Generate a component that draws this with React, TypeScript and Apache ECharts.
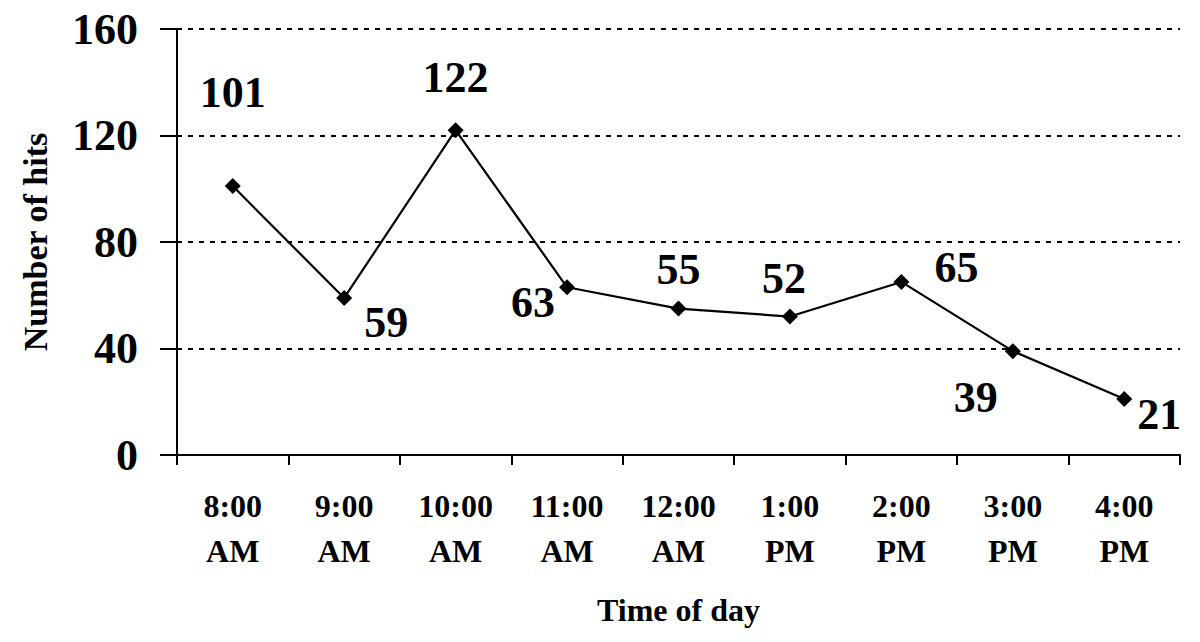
import React, { useEffect, useRef } from "react";
import * as echarts from "echarts";

const categories = ["8:00 AM", "9:00 AM", "10:00 AM", "11:00 AM", "12:00 AM", "1:00 PM", "2:00 PM", "3:00 PM", "4:00 PM"];
const hits = [101, 59, 122, 63, 55, 52, 65, 39, 21];
const yTicks = [0, 40, 80, 120, 160];

// label offsets relative to each marker (style only)
const labelOffsets: [number, number][] = [
  [0, -94],
  [42, 25],
  [0, -53],
  [-34, 15],
  [0, -39],
  [-6, -38],
  [55, -14],
  [-37, 46],
  [35, 15],
];

const FONT = '"Liberation Serif", "Times New Roman", serif';

export default function App() {
  const ref = useRef<HTMLDivElement>(null);
  useEffect(() => {
    if (!ref.current) return;
    const chart = echarts.init(ref.current, null, { renderer: "svg" });
    chart.setOption({
      animation: false,
      backgroundColor: "#ffffff",
      grid: { left: 177, right: 20, top: 29, bottom: 187, containLabel: false },
      xAxis: {
        type: "category",
        data: categories,
        boundaryGap: true,
        name: "Time of day",
        nameLocation: "middle",
        nameGap: 139,
        nameTextStyle: { fontFamily: FONT, fontWeight: "bold", fontSize: 32, color: "#000", verticalAlign: "top" },
        axisLine: { show: true, lineStyle: { color: "#000", width: 2 } },
        axisTick: { show: true, length: 10, alignWithLabel: false, lineStyle: { color: "#000", width: 2 } },
        axisLabel: {
          show: true,
          margin: 28,
          interval: 0,
          fontFamily: FONT,
          fontWeight: "bold",
          fontSize: 32,
          lineHeight: 45,
          color: "#000",
          formatter: (v: string) => v.replace(" ", "\n"),
        },
        splitLine: { show: false },
      },
      yAxis: {
        type: "value",
        min: yTicks[0],
        max: yTicks[yTicks.length - 1],
        interval: yTicks[1] - yTicks[0],
        name: "Number of hits",
        nameLocation: "middle",
        nameGap: 125,
        nameRotate: 90,
        nameTextStyle: { fontFamily: FONT, fontWeight: "bold", fontSize: 34, color: "#000" },
        axisLine: { show: true, lineStyle: { color: "#000", width: 2 } },
        axisTick: { show: true, inside: false, length: 17, lineStyle: { color: "#000", width: 2 } },
        axisLabel: { margin: 39, fontFamily: FONT, fontWeight: "bold", fontSize: 44, color: "#000" },
        splitLine: { show: true, lineStyle: { color: "#000", width: 2, type: [5, 6] } },
      },
      series: [
        {
          type: "line",
          data: hits.map((v, i) => ({
            value: v,
            label: { offset: labelOffsets[i] },
          })),
          symbol: "diamond",
          symbolSize: 16,
          lineStyle: { color: "#000", width: 2.2 },
          itemStyle: { color: "#000" },
          label: {
            show: true,
            position: "inside",
            fontFamily: FONT,
            fontWeight: "bold",
            fontSize: 44,
            color: "#000",
          },
        },
      ],
    });
    return () => chart.dispose();
  }, []);
  return (
    <div
      ref={ref}
      style={{ position: "fixed", left: 0, top: 0, width: 1200, height: 642, background: "#fff" }}
    />
  );
}
